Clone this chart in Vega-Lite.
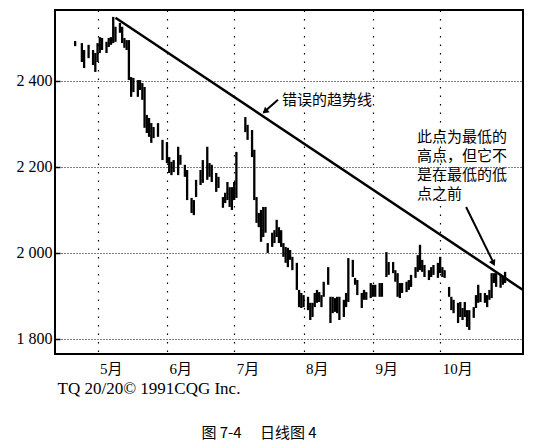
{
  "$schema": "https://vega.github.io/schema/vega-lite/v6.json",
  "width": 468,
  "height": 344,
  "autosize": {"type": "none"},
  "padding": {"left": 55, "top": 10, "right": 16, "bottom": 90},
  "background": "white",
  "config": {"view": {"stroke": "black", "strokeWidth": 2}},
  "title": {"text": "图 7-4　 日线图 4", "orient": "bottom", "anchor": "middle", "dx": -30, "offset": 30, "font": "Noto Sans CJK SC", "fontSize": 15, "fontWeight": "normal", "color": "black"},
  "layer": [
    {
      "data": {"values": [
        {"d": "1991-04-21", "h": 2493, "l": 2481},
        {"d": "1991-04-24", "h": 2488, "l": 2444},
        {"d": "1991-04-25", "h": 2472, "l": 2430},
        {"d": "1991-04-27", "h": 2484, "l": 2453},
        {"d": "1991-04-29", "h": 2472, "l": 2437},
        {"d": "1991-04-30", "h": 2465, "l": 2421},
        {"d": "1991-05-01", "h": 2488, "l": 2444},
        {"d": "1991-05-02", "h": 2502, "l": 2465},
        {"d": "1991-05-03", "h": 2500, "l": 2472},
        {"d": "1991-05-05", "h": 2491, "l": 2465},
        {"d": "1991-05-06", "h": 2500, "l": 2479},
        {"d": "1991-05-07", "h": 2502, "l": 2484},
        {"d": "1991-05-08", "h": 2549, "l": 2488},
        {"d": "1991-05-09", "h": 2526, "l": 2491},
        {"d": "1991-05-11", "h": 2535, "l": 2512},
        {"d": "1991-05-12", "h": 2526, "l": 2488},
        {"d": "1991-05-13", "h": 2500, "l": 2477},
        {"d": "1991-05-14", "h": 2495, "l": 2472},
        {"d": "1991-05-15", "h": 2495, "l": 2402},
        {"d": "1991-05-16", "h": 2409, "l": 2363},
        {"d": "1991-05-17", "h": 2407, "l": 2374},
        {"d": "1991-05-19", "h": 2402, "l": 2363},
        {"d": "1991-05-20", "h": 2402, "l": 2379},
        {"d": "1991-05-21", "h": 2395, "l": 2356},
        {"d": "1991-05-22", "h": 2386, "l": 2291},
        {"d": "1991-05-23", "h": 2321, "l": 2279},
        {"d": "1991-05-24", "h": 2314, "l": 2270},
        {"d": "1991-05-25", "h": 2302, "l": 2256},
        {"d": "1991-05-26", "h": 2293, "l": 2267},
        {"d": "1991-05-28", "h": 2302, "l": 2270},
        {"d": "1991-05-30", "h": 2263, "l": 2216},
        {"d": "1991-06-01", "h": 2258, "l": 2209},
        {"d": "1991-06-02", "h": 2223, "l": 2186},
        {"d": "1991-06-03", "h": 2212, "l": 2181},
        {"d": "1991-06-04", "h": 2216, "l": 2188},
        {"d": "1991-06-06", "h": 2247, "l": 2181},
        {"d": "1991-06-07", "h": 2228, "l": 2205},
        {"d": "1991-06-09", "h": 2205, "l": 2177},
        {"d": "1991-06-10", "h": 2193, "l": 2123},
        {"d": "1991-06-12", "h": 2128, "l": 2093},
        {"d": "1991-06-13", "h": 2123, "l": 2088},
        {"d": "1991-06-14", "h": 2170, "l": 2130},
        {"d": "1991-06-16", "h": 2193, "l": 2158},
        {"d": "1991-06-17", "h": 2216, "l": 2163},
        {"d": "1991-06-19", "h": 2247, "l": 2170},
        {"d": "1991-06-20", "h": 2209, "l": 2177},
        {"d": "1991-06-21", "h": 2205, "l": 2165},
        {"d": "1991-06-23", "h": 2186, "l": 2142},
        {"d": "1991-06-24", "h": 2177, "l": 2151},
        {"d": "1991-06-26", "h": 2130, "l": 2105},
        {"d": "1991-06-27", "h": 2140, "l": 2116},
        {"d": "1991-06-28", "h": 2165, "l": 2123},
        {"d": "1991-06-29", "h": 2153, "l": 2107},
        {"d": "1991-06-30", "h": 2153, "l": 2100},
        {"d": "1991-07-01", "h": 2165, "l": 2123},
        {"d": "1991-07-02", "h": 2235, "l": 2128},
        {"d": "1991-07-06", "h": 2316, "l": 2281},
        {"d": "1991-07-07", "h": 2298, "l": 2263},
        {"d": "1991-07-09", "h": 2286, "l": 2223},
        {"d": "1991-07-10", "h": 2240, "l": 2123},
        {"d": "1991-07-11", "h": 2130, "l": 2070},
        {"d": "1991-07-12", "h": 2093, "l": 2060},
        {"d": "1991-07-13", "h": 2100, "l": 2026},
        {"d": "1991-07-14", "h": 2107, "l": 2037},
        {"d": "1991-07-15", "h": 2107, "l": 2047},
        {"d": "1991-07-16", "h": 2023, "l": 2000},
        {"d": "1991-07-18", "h": 2047, "l": 2014},
        {"d": "1991-07-19", "h": 2053, "l": 2023},
        {"d": "1991-07-20", "h": 2077, "l": 2037},
        {"d": "1991-07-21", "h": 2060, "l": 2023},
        {"d": "1991-07-22", "h": 2053, "l": 2014},
        {"d": "1991-07-23", "h": 2023, "l": 1991},
        {"d": "1991-07-24", "h": 2014, "l": 1977},
        {"d": "1991-07-25", "h": 2012, "l": 1967},
        {"d": "1991-07-26", "h": 2007, "l": 1984},
        {"d": "1991-07-27", "h": 1991, "l": 1960},
        {"d": "1991-07-29", "h": 1977, "l": 1914},
        {"d": "1991-07-30", "h": 1914, "l": 1874},
        {"d": "1991-07-31", "h": 1907, "l": 1872},
        {"d": "1991-08-01", "h": 1902, "l": 1874},
        {"d": "1991-08-03", "h": 1898, "l": 1867},
        {"d": "1991-08-04", "h": 1884, "l": 1844},
        {"d": "1991-08-05", "h": 1884, "l": 1851},
        {"d": "1991-08-06", "h": 1907, "l": 1874},
        {"d": "1991-08-07", "h": 1914, "l": 1884},
        {"d": "1991-08-08", "h": 1909, "l": 1886},
        {"d": "1991-08-09", "h": 1902, "l": 1874},
        {"d": "1991-08-10", "h": 1933, "l": 1898},
        {"d": "1991-08-12", "h": 1967, "l": 1926},
        {"d": "1991-08-13", "h": 1898, "l": 1837},
        {"d": "1991-08-14", "h": 1898, "l": 1860},
        {"d": "1991-08-15", "h": 1895, "l": 1863},
        {"d": "1991-08-16", "h": 1898, "l": 1860},
        {"d": "1991-08-17", "h": 1898, "l": 1844},
        {"d": "1991-08-19", "h": 1891, "l": 1851},
        {"d": "1991-08-20", "h": 1907, "l": 1874},
        {"d": "1991-08-21", "h": 1988, "l": 1886},
        {"d": "1991-08-23", "h": 1984, "l": 1944},
        {"d": "1991-08-24", "h": 1942, "l": 1926},
        {"d": "1991-08-25", "h": 1937, "l": 1902},
        {"d": "1991-08-27", "h": 1907, "l": 1872},
        {"d": "1991-08-28", "h": 1914, "l": 1891},
        {"d": "1991-08-29", "h": 1909, "l": 1891},
        {"d": "1991-08-31", "h": 1930, "l": 1895},
        {"d": "1991-09-01", "h": 1926, "l": 1898},
        {"d": "1991-09-02", "h": 1926, "l": 1898},
        {"d": "1991-09-04", "h": 1930, "l": 1898},
        {"d": "1991-09-05", "h": 1930, "l": 1898},
        {"d": "1991-09-07", "h": 2002, "l": 1944},
        {"d": "1991-09-08", "h": 1979, "l": 1949},
        {"d": "1991-09-10", "h": 1979, "l": 1953},
        {"d": "1991-09-11", "h": 1960, "l": 1933},
        {"d": "1991-09-12", "h": 1953, "l": 1898},
        {"d": "1991-09-13", "h": 1930, "l": 1895},
        {"d": "1991-09-14", "h": 1930, "l": 1907},
        {"d": "1991-09-16", "h": 1933, "l": 1909},
        {"d": "1991-09-17", "h": 1937, "l": 1914},
        {"d": "1991-09-18", "h": 1949, "l": 1921},
        {"d": "1991-09-20", "h": 1967, "l": 1942},
        {"d": "1991-09-21", "h": 1995, "l": 1956},
        {"d": "1991-09-22", "h": 2019, "l": 1960},
        {"d": "1991-09-23", "h": 1984, "l": 1956},
        {"d": "1991-09-24", "h": 1972, "l": 1944},
        {"d": "1991-09-26", "h": 1960, "l": 1937},
        {"d": "1991-09-27", "h": 1967, "l": 1944},
        {"d": "1991-09-28", "h": 1972, "l": 1949},
        {"d": "1991-09-30", "h": 1977, "l": 1942},
        {"d": "1991-10-01", "h": 1991, "l": 1953},
        {"d": "1991-10-02", "h": 1967, "l": 1944},
        {"d": "1991-10-03", "h": 1960, "l": 1942},
        {"d": "1991-10-05", "h": 1921, "l": 1898},
        {"d": "1991-10-06", "h": 1898, "l": 1867},
        {"d": "1991-10-07", "h": 1891, "l": 1860},
        {"d": "1991-10-09", "h": 1884, "l": 1837},
        {"d": "1991-10-10", "h": 1886, "l": 1851},
        {"d": "1991-10-11", "h": 1872, "l": 1844},
        {"d": "1991-10-12", "h": 1886, "l": 1851},
        {"d": "1991-10-13", "h": 1867, "l": 1828},
        {"d": "1991-10-14", "h": 1867, "l": 1821},
        {"d": "1991-10-16", "h": 1874, "l": 1849},
        {"d": "1991-10-17", "h": 1902, "l": 1872},
        {"d": "1991-10-18", "h": 1926, "l": 1884},
        {"d": "1991-10-19", "h": 1907, "l": 1886},
        {"d": "1991-10-21", "h": 1907, "l": 1884},
        {"d": "1991-10-22", "h": 1902, "l": 1874},
        {"d": "1991-10-23", "h": 1914, "l": 1891},
        {"d": "1991-10-24", "h": 1953, "l": 1895},
        {"d": "1991-10-25", "h": 1953, "l": 1930},
        {"d": "1991-10-26", "h": 1953, "l": 1921},
        {"d": "1991-10-28", "h": 1949, "l": 1919},
        {"d": "1991-10-29", "h": 1944, "l": 1926},
        {"d": "1991-10-30", "h": 1956, "l": 1930}
      ]},
      "mark": {"type": "rule", "strokeWidth": 2.3, "color": "black"},
      "encoding": {
        "x": {
          "field": "d", "type": "temporal",
          "scale": {"type": "utc", "domain": [{"year": 1991, "month": 4, "date": 12, "utc": true}, {"year": 1991, "month": 11, "date": 7, "utc": true}]},
          "axis": {
            "values": [
              {"year": 1991, "month": 5, "date": 1, "utc": true},
              {"year": 1991, "month": 6, "date": 1, "utc": true},
              {"year": 1991, "month": 7, "date": 1, "utc": true},
              {"year": 1991, "month": 8, "date": 1, "utc": true},
              {"year": 1991, "month": 9, "date": 1, "utc": true},
              {"year": 1991, "month": 10, "date": 1, "utc": true}
            ],
            "labelExpr": "(utcmonth(datum.value)+1) + '月'",
            "labelAlign": "left", "labelOffset": 2, "labelPadding": 7,
            "labelFont": "Liberation Serif, Noto Sans CJK SC", "labelFontSize": 15, "labelColor": "black",
            "labelOverlap": false, "labelFlush": false,
            "ticks": false, "domain": false,
            "grid": true, "gridDash": [1.5, 7], "gridColor": "black", "gridWidth": 1.2, "gridOpacity": 1,
            "title": "TQ 20/20© 1991CQG Inc.", "titleAlign": "left", "titleAnchor": "start", "titleX": 2,
            "titleFont": "Liberation Serif", "titleFontSize": 17, "titleFontWeight": "normal", "titleColor": "black", "titlePadding": 4
          }
        },
        "y": {
          "field": "l", "type": "quantitative",
          "scale": {"domain": [1765, 2565], "nice": false, "zero": false},
          "axis": {
            "values": [1800, 2000, 2200, 2400],
            "labelExpr": "replace(format(datum.value, ','), ',', ' ')",
            "labelFont": "Liberation Serif", "labelFontSize": 16, "labelColor": "black",
            "ticks": true, "tickSize": -5, "tickColor": "black", "tickWidth": 1.5, "labelPadding": 8,
            "domain": false,
            "grid": true, "gridDash": [1, 2], "gridColor": "black", "gridWidth": 1, "gridOpacity": 1,
            "title": null
          }
        },
        "y2": {"field": "h"}
      }
    },
    {
      "data": {"values": [{"d0": "1991-05-09", "p0": 2547, "d1": "1991-11-07", "p1": 1914}]},
      "mark": {"type": "rule", "strokeWidth": 2.5, "color": "black"},
      "encoding": {
        "x": {"field": "d0", "type": "temporal"},
        "x2": {"field": "d1"},
        "y": {"field": "p0", "type": "quantitative"},
        "y2": {"field": "p1"}
      }
    },
    {
      "data": {"values": [
        {"d0": "1991-07-20T14:00:00Z", "p0": 2356, "d1": "1991-07-14T06:00:00Z", "p1": 2327},
        {"d0": "1991-10-12T14:00:00Z", "p0": 2107, "d1": "1991-10-24T18:00:00Z", "p1": 1978}
      ]},
      "mark": {"type": "rule", "strokeWidth": 2, "color": "black"},
      "encoding": {
        "x": {"field": "d0", "type": "temporal"},
        "x2": {"field": "d1"},
        "y": {"field": "p0", "type": "quantitative"},
        "y2": {"field": "p1"}
      }
    },
    {
      "data": {"values": [{"d": "1991-07-14T19:00:00Z", "p": 2329}]},
      "mark": {"type": "point", "shape": "triangle-down", "filled": true, "size": 50, "angle": 49, "color": "black", "opacity": 1},
      "encoding": {
        "x": {"field": "d", "type": "temporal"},
        "y": {"field": "p", "type": "quantitative"}
      }
    },
    {
      "data": {"values": [{"d": "1991-10-24T19:00:00Z", "p": 1976}]},
      "mark": {"type": "point", "shape": "triangle-down", "filled": true, "size": 50, "angle": 334, "color": "black", "opacity": 1},
      "encoding": {
        "x": {"field": "d", "type": "temporal"},
        "y": {"field": "p", "type": "quantitative"}
      }
    },
    {
      "data": {"values": [{"d": "1991-07-22T10:00:00Z", "p": 2356, "t": "错误的趋势线"}]},
      "mark": {"type": "text", "align": "left", "baseline": "middle", "font": "Noto Sans CJK SC", "fontSize": 15, "color": "black"},
      "encoding": {
        "x": {"field": "d", "type": "temporal"},
        "y": {"field": "p", "type": "quantitative"},
        "text": {"field": "t"}
      }
    },
    {
      "data": {"values": [{"d": "1991-09-20T17:00:00Z", "p": 2270, "t": "此点为最低的\n高点，但它不\n是在最低的低\n点之前"}]},
      "mark": {"type": "text", "align": "left", "baseline": "middle", "lineBreak": "\n", "lineHeight": 19, "font": "Noto Sans CJK SC", "fontSize": 15, "color": "black"},
      "encoding": {
        "x": {"field": "d", "type": "temporal"},
        "y": {"field": "p", "type": "quantitative"},
        "text": {"field": "t"}
      }
    }
  ]
}
